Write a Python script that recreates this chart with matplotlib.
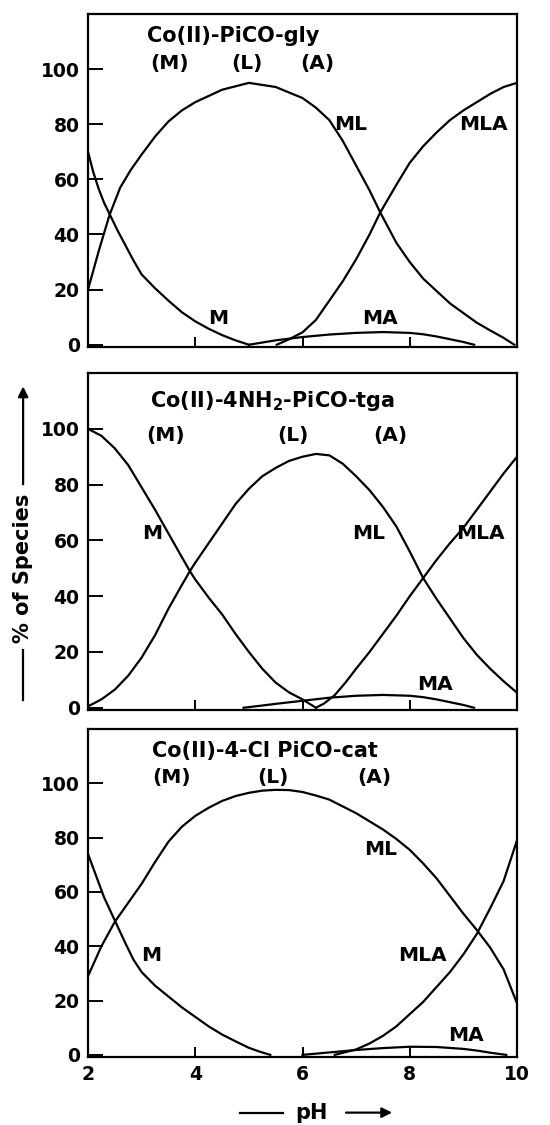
import matplotlib
matplotlib.use("Agg")
import matplotlib.pyplot as plt

FONT_SIZE_TICK = 13.5
FONT_SIZE_TITLE = 15
FONT_SIZE_TEXT = 14.5

# ---- Co(II)-PiCO-gly ----
gly_m_x = [2.0, 2.1, 2.2, 2.3, 2.4, 2.55, 2.7, 2.85, 3.0, 3.25, 3.5, 3.75, 4.0, 4.25, 4.5, 4.75, 5.0]
gly_m_y = [70, 62.5, 56.5, 51.5, 47.5, 41.5, 36, 30.5, 25.5, 20.5, 16, 11.8, 8.5, 5.8, 3.5, 1.6, 0]
gly_ml_x = [2.0, 2.2, 2.4, 2.6, 2.8, 3.0, 3.25, 3.5, 3.75, 4.0, 4.5, 5.0, 5.5, 6.0, 6.25, 6.5,
            6.75, 7.0, 7.25, 7.45, 7.75, 8.0, 8.25, 8.5, 8.75, 9.0, 9.25, 9.5, 9.75, 9.95]
gly_ml_y = [20, 34, 47, 57, 63.5, 69, 75.5, 81, 85, 88, 92.5, 95, 93.5, 89.5, 86, 81.5,
            74, 65, 56, 48, 37, 30, 24, 19.5, 15, 11.5, 8, 5.2, 2.5, 0]
gly_mla_x = [5.52, 5.75, 6.0, 6.25, 6.5, 6.75, 7.0, 7.25, 7.45, 7.75, 8.0, 8.25, 8.5, 8.75,
             9.0, 9.25, 9.5, 9.75, 10.0]
gly_mla_y = [0, 2, 4.5, 9, 16, 23, 31, 40, 48, 58, 66, 72, 77, 81.5, 85, 88, 91, 93.5, 95]
gly_ma_x = [5.0, 5.25, 5.5, 5.75, 6.0, 6.5, 7.0, 7.5, 8.0, 8.25, 8.5, 8.75, 9.0, 9.2]
gly_ma_y = [0, 0.8, 1.6, 2.2, 2.8, 3.7, 4.3, 4.6, 4.3, 3.8, 3.0, 2.0, 1.0, 0]

# ---- Co(II)-4NH2-PiCO-tga ----
tga_m_x = [2.0, 2.25, 2.5, 2.75, 3.0, 3.25, 3.5, 3.75, 3.9, 4.0, 4.25, 4.5, 4.75, 5.0, 5.25,
           5.5, 5.75, 6.0, 6.25]
tga_m_y = [100, 97.5, 93, 87, 79, 71, 62.5, 54, 49, 46, 39.5, 33.5, 26.5, 20, 14, 9, 5.5, 3, 0]
tga_ml_x = [2.0, 2.25, 2.5, 2.75, 3.0, 3.25, 3.5, 3.75, 3.9, 4.0, 4.25, 4.5, 4.75, 5.0, 5.25,
            5.5, 5.75, 6.0, 6.25, 6.5, 6.75, 7.0, 7.25, 7.5, 7.75, 8.0, 8.25, 8.5, 8.75,
            9.0, 9.25, 9.5, 9.75, 10.0]
tga_ml_y = [0.5, 3, 6.5, 11.5, 18, 26, 35.5, 44, 49, 52, 59, 66, 73, 78.5, 83,
            86, 88.5, 90, 91, 90.5, 87.5, 83, 78, 72, 65, 56, 46.5, 39, 32,
            25, 19, 14, 9.5, 5.4]
tga_mla_x = [6.25, 6.4, 6.6, 6.8, 7.0, 7.25, 7.5, 7.75, 8.0, 8.25, 8.5, 8.75, 9.0, 9.25,
             9.5, 9.75, 10.0]
tga_mla_y = [0, 1.5, 4.5, 9, 14, 20, 26.5, 33, 40, 46.5, 53, 59, 64.5, 71, 77.5, 84, 90]
tga_ma_x = [4.9, 5.25, 5.5, 6.0, 6.5, 7.0, 7.5, 8.0, 8.25, 8.5, 8.75, 9.0, 9.2]
tga_ma_y = [0, 0.8, 1.4, 2.5, 3.6, 4.3, 4.6, 4.3, 3.8, 3.0, 2.0, 1.0, 0]

# ---- Co(II)-4-Cl PiCO-cat ----
cat_m_x = [2.0, 2.15, 2.3, 2.5, 2.7, 2.85, 3.0, 3.25, 3.5, 3.75, 4.0, 4.25, 4.5, 4.75, 5.0,
           5.2, 5.4]
cat_m_y = [74, 66, 58, 49.5, 41, 35, 30.5, 25.5, 21.5, 17.5, 14, 10.5, 7.5, 5, 2.6, 1.2, 0]
cat_ml_x = [2.0, 2.25, 2.5, 2.75, 3.0, 3.25, 3.5, 3.75, 4.0, 4.25, 4.5, 4.75, 5.0, 5.25, 5.5,
            5.75, 6.0, 6.25, 6.5, 6.75, 7.0, 7.25, 7.5, 7.75, 8.0, 8.25, 8.5, 8.75, 9.0,
            9.25, 9.5, 9.75, 10.0]
cat_ml_y = [29, 40, 49, 56, 63, 71, 78.5, 84, 88, 91, 93.5, 95.3, 96.5, 97.3, 97.6,
            97.5, 96.8, 95.5, 94, 91.5, 89, 86, 83, 79.5, 75.5, 70.5, 65, 58.5, 52,
            46, 39.5, 31.5, 19]
cat_mla_x = [6.6, 6.8, 7.0, 7.25, 7.5, 7.75, 8.0, 8.25, 8.5, 8.75, 9.0, 9.25, 9.5, 9.75, 10.0]
cat_mla_y = [0, 1, 2, 4.2, 7, 10.5, 15, 19.5, 25, 30.5, 37, 44.5, 54, 64, 79]
cat_ma_x = [6.0, 6.5, 7.0, 7.5, 8.0, 8.5, 9.0, 9.25, 9.5, 9.8]
cat_ma_y = [0, 0.9, 1.8, 2.5, 3.0, 2.9, 2.2, 1.6, 0.8, 0]

titles = ["Co(II)-PiCO-gly", "Co(II)-4NH$_2$-PiCO-tga", "Co(II)-4-Cl PiCO-cat"]
title_pos = [(4.7, 112), (5.45, 110), (5.3, 112)]
mla_pos = [(3.53, 4.96, 6.27), (3.44, 5.83, 7.63), (3.55, 5.44, 7.34)]
mla_y = [102, 97.5, 102]

curves = [
    [(gly_m_x, gly_m_y), (gly_ml_x, gly_ml_y), (gly_mla_x, gly_mla_y), (gly_ma_x, gly_ma_y)],
    [(tga_m_x, tga_m_y), (tga_ml_x, tga_ml_y), (tga_mla_x, tga_mla_y), (tga_ma_x, tga_ma_y)],
    [(cat_m_x, cat_m_y), (cat_ml_x, cat_ml_y), (cat_mla_x, cat_mla_y), (cat_ma_x, cat_ma_y)],
]
# species label positions (name, x, y) for each panel
species_labels = [
    [("M", 4.43, 9.7), ("ML", 6.89, 80), ("MLA", 9.37, 80), ("MA", 7.45, 9.7)],
    [("M", 3.19, 62.5), ("ML", 7.23, 62.5), ("MLA", 9.31, 62.5), ("MA", 8.47, 8.2)],
    [("M", 3.17, 36.6), ("ML", 7.46, 75.6), ("MLA", 8.24, 36.6), ("MA", 9.05, 7.3)],
]

plt.rcParams["font.family"] = ["DejaVu Sans"]
plt.rcParams["font.weight"] = "bold"
fig = plt.figure(figsize=(5.5, 11.25), dpi=100)

boxes = [
    [0.16, 0.6916, 0.78, 0.296],
    [0.16, 0.3689, 0.78, 0.2995],
    [0.16, 0.0604, 0.78, 0.2916],
]

for k in range(3):
    ax = fig.add_axes(boxes[k])
    for xs, ys in curves[k]:
        ax.plot(xs, ys, color="black", linewidth=1.6)
    ax.set_xlim(2, 10)
    ax.set_ylim(-0.8, 120)
    ax.set_yticks([0, 20, 40, 60, 80, 100])
    ax.set_xticks([2, 4, 6, 8, 10])
    ax.tick_params(axis="y", direction="in", length=11, width=1.4,
                   labelsize=FONT_SIZE_TICK, pad=6)
    ax.tick_params(axis="x", direction="in", length=7, width=1.4,
                   labelsize=FONT_SIZE_TICK, pad=6)
    if k < 2:
        ax.tick_params(axis="x", labelbottom=False)
    for s in ax.spines.values():
        s.set_linewidth(1.6)

    ax.text(title_pos[k][0], title_pos[k][1], titles[k], ha="center", va="center",
            fontsize=FONT_SIZE_TITLE, fontweight="bold")
    for lab, xx in zip(["(M)", "(L)", "(A)"], mla_pos[k]):
        ax.text(xx, mla_y[k], lab, ha="center", va="center",
                fontsize=FONT_SIZE_TEXT, fontweight="bold")
    for name, xx, yy in species_labels[k]:
        ax.text(xx, yy, name, ha="center", va="center",
                fontsize=FONT_SIZE_TEXT, fontweight="bold")

# y label with arrow
fig.text(0.042, 0.495, "% of Species", rotation=90, ha="center", va="center",
         fontsize=15, fontweight="bold")
fig.add_artist(plt.Line2D([0.042, 0.042], [0.378, 0.422], color="black", linewidth=1.6))
fig.add_artist(matplotlib.patches.FancyArrowPatch(
    (0.042, 0.567), (0.042, 0.659), transform=fig.transFigure,
    arrowstyle="-|>,head_length=6,head_width=3", color="black", linewidth=1.6))

# x label with arrow
fig.text(0.567, 0.011, "pH", ha="center", va="center", fontsize=15, fontweight="bold")
fig.add_artist(plt.Line2D([0.436, 0.515], [0.011, 0.011], color="black", linewidth=1.6))
fig.add_artist(matplotlib.patches.FancyArrowPatch(
    (0.624, 0.011), (0.718, 0.011), transform=fig.transFigure,
    arrowstyle="-|>,head_length=6,head_width=3", color="black", linewidth=1.6))

fig.savefig("out.png", dpi=100)
